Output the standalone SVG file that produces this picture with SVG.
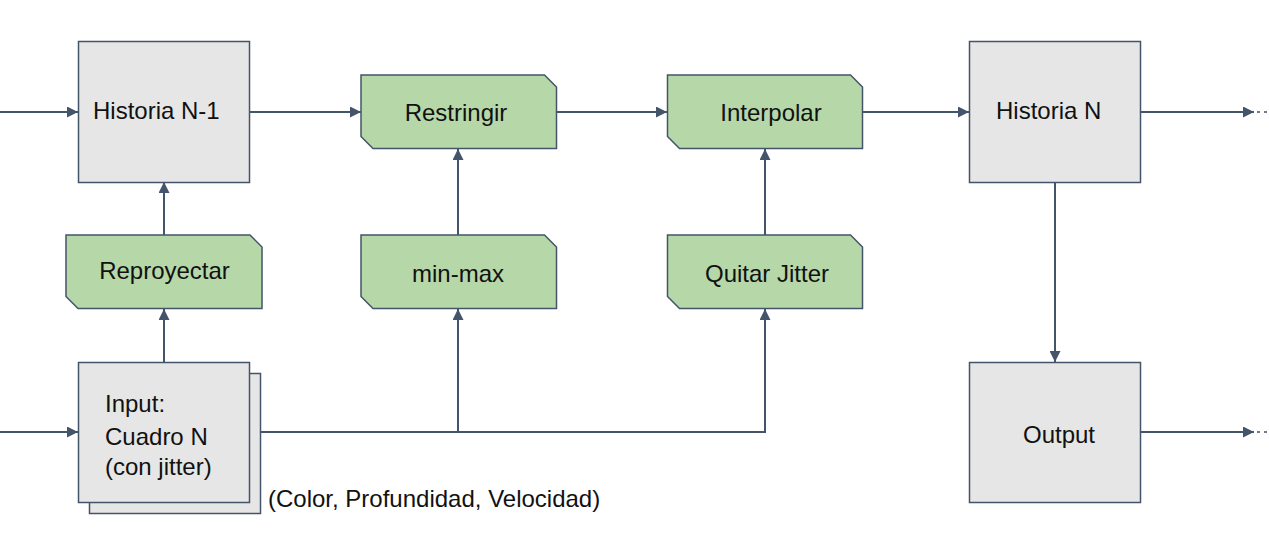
<svg xmlns="http://www.w3.org/2000/svg" width="1269" height="539" viewBox="0 0 1269 539">
<style>
.box{fill:#E6E6E6;stroke:#44546A;stroke-width:1.5}
.op{fill:#B6D7A8;stroke:#44546A;stroke-width:1.5}
.ln{fill:none;stroke:#44546A;stroke-width:2}
.dot{fill:none;stroke:#44546A;stroke-width:1.5;stroke-dasharray:3 4}
text{font-family:"Liberation Sans",Arial,sans-serif;font-size:24px;fill:#111}
.c{text-anchor:middle}
</style>
<defs>
<marker id="ah" markerUnits="userSpaceOnUse" markerWidth="11" markerHeight="11" refX="11" refY="5.5" orient="auto">
<path d="M0,0 L11,5.5 L0,11 z" fill="#44546A"/>
</marker>
</defs>
<g id="connectors">
<line class="ln" x1="0" y1="112" x2="78" y2="112" marker-end="url(#ah)"/>
<line class="ln" x1="249" y1="112" x2="361" y2="112" marker-end="url(#ah)"/>
<line class="ln" x1="556" y1="112" x2="667" y2="112" marker-end="url(#ah)"/>
<line class="ln" x1="862" y1="112" x2="969" y2="112" marker-end="url(#ah)"/>
<line class="ln" x1="1140" y1="112" x2="1254" y2="112" marker-end="url(#ah)"/>
<line class="dot" x1="1257" y1="112" x2="1269" y2="112"/>
<line class="ln" x1="164" y1="235" x2="164" y2="182" marker-end="url(#ah)"/>
<line class="ln" x1="164" y1="362" x2="164" y2="309" marker-end="url(#ah)"/>
<line class="ln" x1="458" y1="235" x2="458" y2="149" marker-end="url(#ah)"/>
<line class="ln" x1="765" y1="235" x2="765" y2="149" marker-end="url(#ah)"/>
<line class="ln" x1="0" y1="432" x2="78" y2="432" marker-end="url(#ah)"/>
<polyline class="ln" points="249,432 765,432 765,309" marker-end="url(#ah)"/>
<line class="ln" x1="458" y1="432" x2="458" y2="309" marker-end="url(#ah)"/>
<line class="ln" x1="1055" y1="182" x2="1055" y2="362" marker-end="url(#ah)"/>
<line class="ln" x1="1140" y1="432" x2="1254" y2="432" marker-end="url(#ah)"/>
<line class="dot" x1="1257" y1="432" x2="1269" y2="432"/>
</g>
<g id="historia-n-1">
<rect class="box" x="78.5" y="41.5" width="171" height="141"/>
<text x="93" y="119">Historia N-1</text>
</g>
<g id="restringir">
<path class="op" d="M361,75 H544.5 L556.5,87 V148.5 H373 L361,136.5 Z"/>
<text class="c" x="456" y="121">Restringir</text>
</g>
<g id="interpolar">
<path class="op" d="M667.5,75 H850.5 L862.5,87 V148.5 H679.5 L667.5,136.5 Z"/>
<text class="c" x="771" y="121">Interpolar</text>
</g>
<g id="historia-n">
<rect class="box" x="969.5" y="41.5" width="171" height="141"/>
<text x="996" y="119">Historia N</text>
</g>
<g id="reproyectar">
<path class="op" d="M66,235 H250 L262,247 V308.5 H78 L66,296.5 Z"/>
<text class="c" x="164.5" y="279">Reproyectar</text>
</g>
<g id="min-max">
<path class="op" d="M361,235 H544.5 L556.5,247 V308.5 H373 L361,296.5 Z"/>
<text class="c" x="458" y="282">min-max</text>
</g>
<g id="quitar-jitter">
<path class="op" d="M667.5,235 H850.5 L862.5,247 V308.5 H679.5 L667.5,296.5 Z"/>
<text class="c" x="767" y="282">Quitar Jitter</text>
</g>
<g id="input">
<rect class="box" x="89.5" y="373.5" width="171" height="140"/>
<rect class="box" x="78.5" y="362.5" width="171" height="140"/>
<text x="105" y="412">Input:</text>
<text x="105" y="445">Cuadro N</text>
<text x="105" y="475">(con jitter)</text>
<text x="268" y="507">(Color, Profundidad, Velocidad)</text>
</g>
<g id="output">
<rect class="box" x="969.5" y="362.5" width="171" height="140"/>
<text class="c" x="1059" y="443">Output</text>
</g>
</svg>
